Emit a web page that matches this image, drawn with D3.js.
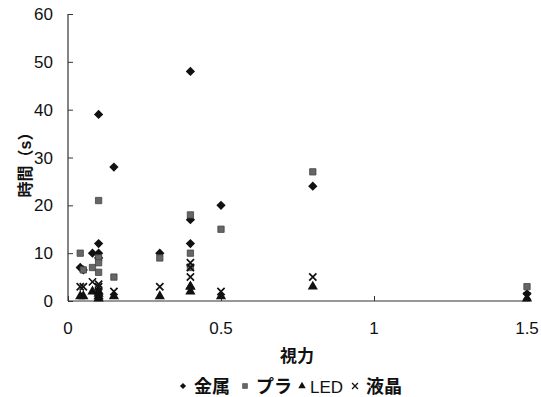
<!DOCTYPE html>
<html>
<head>
<meta charset="utf-8">
<script src="https://cdn.jsdelivr.net/npm/d3@7"></script>
<style>
  body { margin: 0; background: #fff; }
  svg text { font-family: "Liberation Sans", Arial, "Noto Sans CJK JP", sans-serif; fill: #111; }
</style>
</head>
<body>
<div class="chart"></div>
<script>
// subjects: vision and time (s) per material
var vision = [0.04, 0.05, 0.08, 0.1, 0.1, 0.1, 0.1, 0.15, 0.3, 0.4, 0.4, 0.4, 0.5, 0.8, 1.5];
var metal  = [7, 6.5, 10, 39, 12, 10, 9, 28, 10, 48, 17, 12, 20, 24, 1.5];
var plastic = [10, 6.5, 7, 21, 9, 8, 6, 5, 9, 18, 10, 7, 15, 27, 3];
var led    = [1, 1, 2, 1, 2, 0.5, 1.5, 1, 1, 3, 2, 3, 1, 3, 0.5];
var lcd    = [3, 3, 4, 3.5, 3, 2, 1, 2, 3, 8, 5, 7, 2, 5, 1];

var seriesNames = ["金属", "プラ", "LED", "液晶"];
var xTicks = [0, 0.5, 1, 1.5];
var yTicks = [0, 10, 20, 30, 40, 50, 60];

var width = 541, height = 397;
var x = d3.scaleLinear().domain([0, 1.5]).range([68, 527]);
var y = d3.scaleLinear().domain([0, 60]).range([301, 14]);

var svg = d3.select(".chart").append("svg")
    .attr("width", width)
    .attr("height", height);

    //axes
var gx = svg.append("g")
    .attr("transform", "translate(0,301)")
    .call(d3.axisTop(x).tickValues(xTicks).tickSize(5).tickFormat(""));
gx.select(".domain").attr("d", "M68,0H530");

var gy = svg.append("g")
    .attr("transform", "translate(68,0)")
    .call(d3.axisRight(y).tickValues(yTicks).tickSize(5).tickFormat(""));
gy.select(".domain").attr("d", "M0,301V14");

svg.selectAll(".domain").attr("stroke", "#333").attr("stroke-width", 1.2);
svg.selectAll(".tick line").attr("stroke", "#333");

    //tick labels
svg.selectAll(".xlab")
    .data(xTicks)
    .enter().append("text")
    .attr("x", function (d) { return x(d); })
    .attr("y", 334)
    .attr("text-anchor", "middle")
    .style("font-size", "17px")
    .text(function (d) { return d; });

svg.selectAll(".ylab")
    .data(yTicks)
    .enter().append("text")
    .attr("x", 53)
    .attr("y", function (d) { return y(d) + 6; })
    .attr("text-anchor", "end")
    .style("font-size", "17px")
    .text(function (d) { return d; });

    //axis titles
svg.append("text")
    .attr("transform", "translate(31,161) rotate(-90)")
    .attr("text-anchor", "middle")
    .style("font-size", "16px")
    .style("font-weight", "bold")
    .text("時間（s）");

svg.append("text")
    .attr("x", 297)
    .attr("y", 362)
    .attr("text-anchor", "middle")
    .style("font-size", "17px")
    .style("font-weight", "bold")
    .text("視力");

    //markers
var types = [d3.symbolDiamond2, d3.symbolSquare, d3.symbolTriangle, d3.symbolTimes];
var sizes = [55, 40, 45, 36];
var fills = ["#111", "#666", "#111", "none"];
var strokes = ["none", "#444", "none", "#111"];
var allSeries = [metal, plastic, led, lcd];

allSeries.forEach(function (vals, i) {
    svg.append("g").selectAll("path")
        .data(vals)
        .enter().append("path")
        .attr("transform", function (d, j) { return "translate(" + x(vision[j]) + "," + y(d) + ")"; })
        .attr("d", d3.symbol().type(types[i]).size(sizes[i]))
        .attr("fill", fills[i])
        .attr("stroke", strokes[i])
        .attr("stroke-width", i == 3 ? 1.7 : 0.8);
});

    //legend
var legX = [183, 245, 302, 355];
var leg = svg.append("g").selectAll("g")
    .data(seriesNames)
    .enter().append("g")
    .attr("transform", function (d, i) { return "translate(" + legX[i] + ",386)"; });

leg.append("path")
    .attr("d", function (d, i) { return d3.symbol().type(types[i]).size(24)(); })
    .attr("fill", function (d, i) { return fills[i]; })
    .attr("stroke", function (d, i) { return strokes[i]; })
    .attr("stroke-width", function (d, i) { return i == 3 ? 1.3 : 0.6; });

leg.append("text")
    .attr("x", function (d, i) { return i == 2 ? 8 : 11; })
    .attr("y", 7)
    .style("font-size", function (d, i) { return i == 2 ? "17px" : "18px"; })
    .style("font-weight", function (d, i) { return i == 2 ? "normal" : "bold"; })
    .text(function (d) { return d; });
</script>
</body>
</html>
